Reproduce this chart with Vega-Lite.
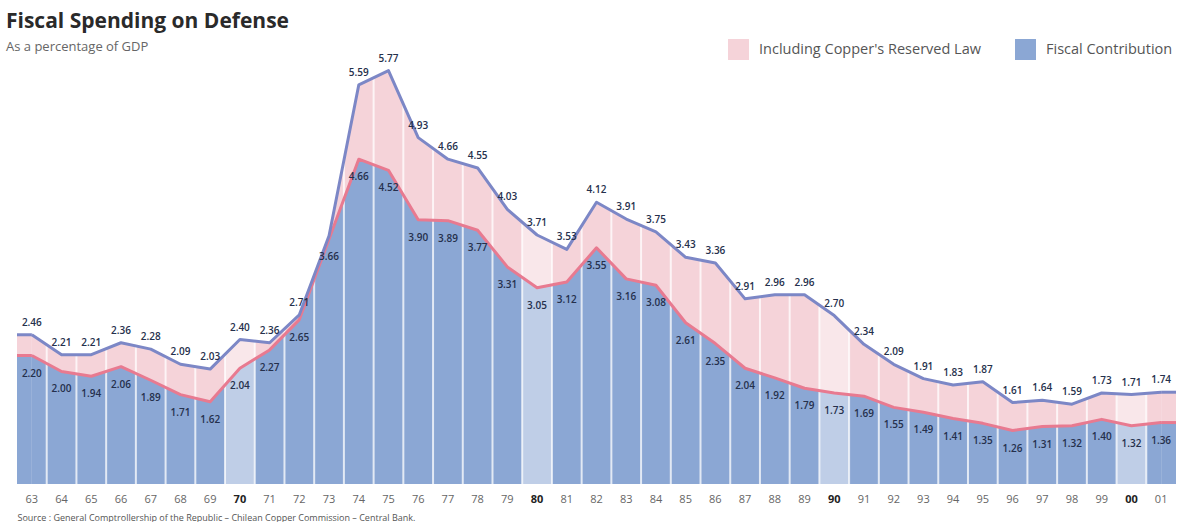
{
  "$schema": "https://vega.github.io/schema/vega-lite/v6.json",
  "width": 1159,
  "height": 419,
  "padding": {"left": 6, "right": 26, "top": 11, "bottom": 0},
  "background": "white",
  "config": {"view": {"stroke": null}, "font": "Open Sans"},
  "title": {
    "text": "Fiscal Spending on Defense",
    "subtitle": "As a percentage of GDP",
    "anchor": "start",
    "frame": "group",
    "dx": -11,
    "font": "Open Sans",
    "fontSize": 21,
    "fontWeight": "bold",
    "color": "#2a2a2a",
    "subtitleFont": "Open Sans",
    "subtitleFontSize": 13,
    "subtitleColor": "#666666",
    "subtitlePadding": 9,
    "offset": -15
  },
  "data": {
    "values": [
      {"year": 1963, "total": 2.46, "fiscal": 2.20},
      {"year": 1964, "total": 2.21, "fiscal": 2.00},
      {"year": 1965, "total": 2.21, "fiscal": 1.94},
      {"year": 1966, "total": 2.36, "fiscal": 2.06},
      {"year": 1967, "total": 2.28, "fiscal": 1.89},
      {"year": 1968, "total": 2.09, "fiscal": 1.71},
      {"year": 1969, "total": 2.03, "fiscal": 1.62},
      {"year": 1970, "total": 2.40, "fiscal": 2.04},
      {"year": 1971, "total": 2.36, "fiscal": 2.27},
      {"year": 1972, "total": 2.71, "fiscal": 2.65},
      {"year": 1973, "total": 3.70, "fiscal": 3.66},
      {"year": 1974, "total": 5.59, "fiscal": 4.66},
      {"year": 1975, "total": 5.77, "fiscal": 4.52},
      {"year": 1976, "total": 4.93, "fiscal": 3.90},
      {"year": 1977, "total": 4.66, "fiscal": 3.89},
      {"year": 1978, "total": 4.55, "fiscal": 3.77},
      {"year": 1979, "total": 4.03, "fiscal": 3.31},
      {"year": 1980, "total": 3.71, "fiscal": 3.05},
      {"year": 1981, "total": 3.53, "fiscal": 3.12},
      {"year": 1982, "total": 4.12, "fiscal": 3.55},
      {"year": 1983, "total": 3.91, "fiscal": 3.16},
      {"year": 1984, "total": 3.75, "fiscal": 3.08},
      {"year": 1985, "total": 3.43, "fiscal": 2.61},
      {"year": 1986, "total": 3.36, "fiscal": 2.35},
      {"year": 1987, "total": 2.91, "fiscal": 2.04},
      {"year": 1988, "total": 2.96, "fiscal": 1.92},
      {"year": 1989, "total": 2.96, "fiscal": 1.79},
      {"year": 1990, "total": 2.70, "fiscal": 1.73},
      {"year": 1991, "total": 2.34, "fiscal": 1.69},
      {"year": 1992, "total": 2.09, "fiscal": 1.55},
      {"year": 1993, "total": 1.91, "fiscal": 1.49},
      {"year": 1994, "total": 1.83, "fiscal": 1.41},
      {"year": 1995, "total": 1.87, "fiscal": 1.35},
      {"year": 1996, "total": 1.61, "fiscal": 1.26},
      {"year": 1997, "total": 1.64, "fiscal": 1.31},
      {"year": 1998, "total": 1.59, "fiscal": 1.32},
      {"year": 1999, "total": 1.73, "fiscal": 1.40},
      {"year": 2000, "total": 1.71, "fiscal": 1.32},
      {"year": 2001, "total": 1.74, "fiscal": 1.36}
    ]
  },
  "encoding": {
    "x": {
      "field": "year",
      "type": "ordinal",
      "scale": {"type": "band", "paddingInner": 0, "paddingOuter": 0},
      "axis": {
        "labelExpr": "substring(datum.label, 2)",
        "labelAngle": 0,
        "labelFont": "Open Sans",
        "labelFontSize": 11,
        "labelColor": {"condition": {"test": "datum.value % 10 == 0", "value": "#222222"}, "value": "#666666"},
        "labelFontWeight": {"condition": {"test": "datum.value % 10 == 0", "value": "bold"}, "value": "normal"},
        "labelPadding": 9,
        "ticks": false,
        "domain": false,
        "grid": false,
        "title": "Source : General Comptrollership of the Republic – Chilean Copper Commission – Central Bank.",
        "titleFont": "Open Sans",
        "titleFontSize": 9,
        "titleFontWeight": "normal",
        "titleColor": "#555555",
        "titlePadding": 9,
        "titleAnchor": "start",
        "titleAlign": "left",
        "titleX": 0
      }
    }
  },
  "layer": [
    {
      "mark": {"type": "area", "interpolate": "linear", "clip": true},
      "encoding": {
        "x": {"field": "year", "type": "ordinal", "bandPosition": 0.5},
        "y": {"field": "total", "type": "quantitative", "scale": {"domain": [0.59, 5.84], "nice": false, "zero": false}, "axis": null},
        "y2": {"field": "fiscal"},
        "fill": {"datum": "Including Copper's Reserved Law", "type": "nominal",
          "scale": {"domain": ["Including Copper's Reserved Law", "Fiscal Contribution"], "range": ["#f5d3d9", "#8ba7d4"]},
          "legend": {"title": null, "orient": "none", "legendX": 711, "legendY": -26, "direction": "horizontal",
            "symbolType": "square", "symbolSize": 440, "symbolStrokeWidth": 0, "labelFont": "Open Sans", "labelFontSize": 14.5,
            "labelColor": "#555555", "labelLimit": 400, "columnPadding": 34, "labelOffset": 10}}
      }
    },
    {
      "mark": {"type": "area", "interpolate": "linear", "clip": true},
      "encoding": {
        "x": {"field": "year", "type": "ordinal", "bandPosition": 0.5},
        "y": {"field": "fiscal", "type": "quantitative"},
        "y2": {"datum": 0.59},
        "fill": {"datum": "Fiscal Contribution", "type": "nominal"}
      }
    },
    {
      "transform": [{"filter": "datum.year == 1963"}],
      "mark": {"type": "rect", "fill": "#8ba7d4"},
      "encoding": {
        "x": {"field": "year", "type": "ordinal", "bandPosition": 0},
        "x2": {"field": "year", "bandPosition": 0.5},
        "y": {"field": "fiscal", "type": "quantitative"},
        "y2": {"datum": 0.59}
      }
    },
    {
      "transform": [{"filter": "datum.year == 1963"}],
      "mark": {"type": "rect", "fill": "#f5d3d9"},
      "encoding": {
        "x": {"field": "year", "type": "ordinal", "bandPosition": 0},
        "x2": {"field": "year", "bandPosition": 0.5},
        "y": {"field": "total", "type": "quantitative"},
        "y2": {"field": "fiscal"}
      }
    },
    {
      "transform": [{"filter": "datum.year == 2001"}],
      "mark": {"type": "rect", "fill": "#8ba7d4"},
      "encoding": {
        "x": {"field": "year", "type": "ordinal", "bandPosition": 0.5},
        "x2": {"field": "year", "bandPosition": 1},
        "y": {"field": "fiscal", "type": "quantitative"},
        "y2": {"datum": 0.59}
      }
    },
    {
      "transform": [{"filter": "datum.year == 2001"}],
      "mark": {"type": "rect", "fill": "#f5d3d9"},
      "encoding": {
        "x": {"field": "year", "type": "ordinal", "bandPosition": 0.5},
        "x2": {"field": "year", "bandPosition": 1},
        "y": {"field": "total", "type": "quantitative"},
        "y2": {"field": "fiscal"}
      }
    },
    {
      "transform": [{"filter": "datum.year % 10 == 0"}],
      "mark": {"type": "rect", "fill": "white", "opacity": 0.45},
      "encoding": {
        "x": {"field": "year", "type": "ordinal"},
        "y": {"datum": 5.84, "type": "quantitative"},
        "y2": {"datum": 0.59}
      }
    },
    {
      "transform": [{"filter": "datum.year > 1963"}],
      "mark": {"type": "rule", "stroke": "white", "strokeWidth": 2, "opacity": 0.75},
      "encoding": {
        "x": {"field": "year", "type": "ordinal", "bandPosition": 0},
        "y": {"datum": 5.84, "type": "quantitative"},
        "y2": {"datum": 0.59}
      }
    },
    {
      "transform": [{"filter": "datum.year == 1963"}],
      "mark": {"type": "rule", "stroke": "#e87a90", "strokeWidth": 3},
      "encoding": {
        "x": {"field": "year", "type": "ordinal", "bandPosition": 0},
        "x2": {"field": "year", "bandPosition": 0.5},
        "y": {"field": "fiscal", "type": "quantitative"}
      }
    },
    {
      "transform": [{"filter": "datum.year == 1963"}],
      "mark": {"type": "rule", "stroke": "#7c87c6", "strokeWidth": 3},
      "encoding": {
        "x": {"field": "year", "type": "ordinal", "bandPosition": 0},
        "x2": {"field": "year", "bandPosition": 0.5},
        "y": {"field": "total", "type": "quantitative"}
      }
    },
    {
      "transform": [{"filter": "datum.year == 2001"}],
      "mark": {"type": "rule", "stroke": "#e87a90", "strokeWidth": 3},
      "encoding": {
        "x": {"field": "year", "type": "ordinal", "bandPosition": 0.5},
        "x2": {"field": "year", "bandPosition": 1},
        "y": {"field": "fiscal", "type": "quantitative"}
      }
    },
    {
      "transform": [{"filter": "datum.year == 2001"}],
      "mark": {"type": "rule", "stroke": "#7c87c6", "strokeWidth": 3},
      "encoding": {
        "x": {"field": "year", "type": "ordinal", "bandPosition": 0.5},
        "x2": {"field": "year", "bandPosition": 1},
        "y": {"field": "total", "type": "quantitative"}
      }
    },
    {
      "mark": {"type": "line", "interpolate": "linear", "stroke": "#e87a90", "strokeWidth": 3, "strokeJoin": "round"},
      "encoding": {
        "x": {"field": "year", "type": "ordinal", "bandPosition": 0.5},
        "y": {"field": "fiscal", "type": "quantitative"}
      }
    },
    {
      "mark": {"type": "line", "interpolate": "linear", "stroke": "#7c87c6", "strokeWidth": 3, "strokeJoin": "round"},
      "encoding": {
        "x": {"field": "year", "type": "ordinal", "bandPosition": 0.5},
        "y": {"field": "total", "type": "quantitative"}
      }
    },
    {
      "transform": [{"filter": "datum.year != 1973"}],
      "mark": {"type": "text", "dy": -12, "fontSize": 10, "font": "Open Sans", "fontWeight": 600, "fill": "#25304c"},
      "encoding": {
        "x": {"field": "year", "type": "ordinal", "bandPosition": 0.5},
        "y": {"field": "total", "type": "quantitative"},
        "text": {"field": "total", "type": "quantitative", "format": ".2f"}
      }
    },
    {
      "mark": {"type": "text", "dy": 18, "fontSize": 10, "font": "Open Sans", "fontWeight": 600, "fill": "#25304c"},
      "encoding": {
        "x": {"field": "year", "type": "ordinal", "bandPosition": 0.5},
        "y": {"field": "fiscal", "type": "quantitative"},
        "text": {"field": "fiscal", "type": "quantitative", "format": ".2f"}
      }
    }
  ]
}
